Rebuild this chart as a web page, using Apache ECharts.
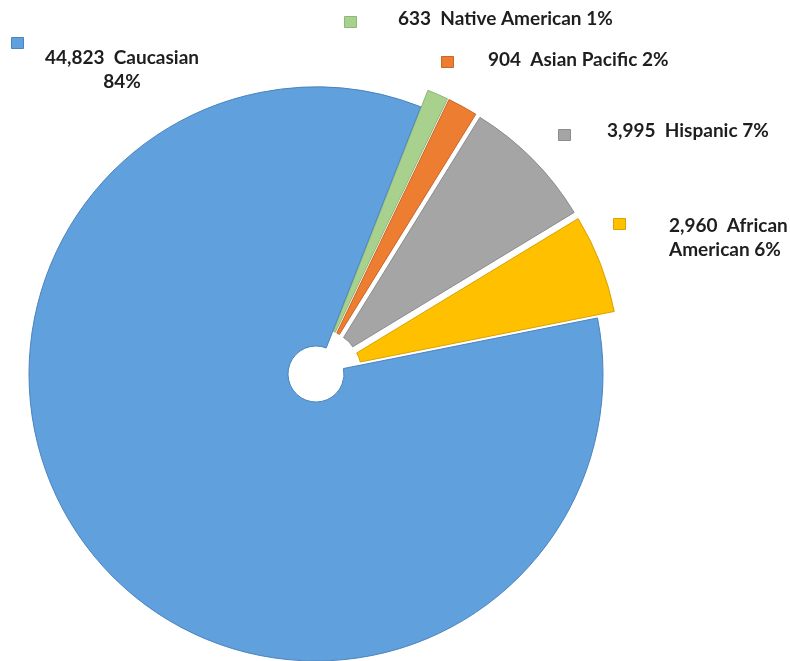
<!DOCTYPE html>
<html>
<head>
<meta charset="utf-8">
<script src="https://cdn.jsdelivr.net/npm/echarts@6/dist/echarts.min.js"></script>
<style>
html,body{margin:0;padding:0;background:#fff;}
#chart{width:790px;height:661px;}
</style>
</head>
<body>
<div id="chart"></div>
<script>
// ---- data ----
const categories = ['Native American', 'Asian Pacific', 'Hispanic', 'African American', 'Caucasian'];
const counts = [633, 904, 3995, 2960, 44823];
const exploded = [true, true, true, true, false];

// ---- styles / layout (kept separate from data) ----
const colors = ['#A9D18E', '#ED7D31', '#A5A5A5', '#FFC000', '#5FA0DD'];
const borders = ['#8fb874', '#c9662a', '#8c8c8c', '#d9a300', '#4a84bd'];
const labelPos = [[398, 19, 'left'], [488, 60, 'left'], [607, 131, 'left'], [669, 238, 'left'], [122, 70, 'center']];
const markerPos = [[350, 22], [447, 62], [564, 135], [619, 224], [17, 43]];

const fmt = v => v.toLocaleString('en-US');

function labelText(p) {
  const pct = Math.round(p.percent) + '%';
  const v = fmt(p.value);
  if (p.name === 'Caucasian') return v + '  ' + p.name + '\n' + pct;
  if (p.name === 'African American') return v + '  African\nAmerican ' + pct;
  return v + '  ' + p.name + ' ' + pct;
}

const pieCenter = [316, 374];
const pieRadius = [28, 287];
const pieStart = 68.6;

const sectorData = categories.map((c, i) => ({
  name: c,
  value: counts[i],
  selected: exploded[i],
  itemStyle: { color: colors[i], borderColor: borders[i], borderWidth: 1 }
}));
const labelData = categories.map((c, i) => ({ name: c, value: counts[i] }));

const legends = categories.map((c, i) => ({
  data: [c],
  left: markerPos[i][0] - 6,
  top: markerPos[i][1] - 6,
  padding: 0,
  itemWidth: 12,
  itemHeight: 11,
  icon: 'rect',
  selectedMode: false,
  formatter: () => '',
  textStyle: { fontSize: 1 },
  itemStyle: { borderColor: borders[i], borderWidth: 1 }
}));

const chart = echarts.init(document.getElementById('chart'), null, { renderer: 'canvas' });
chart.setOption({
  animation: false,
  backgroundColor: '#ffffff',
  color: colors,
  legend: legends,
  series: [{
    type: 'pie',
    name: 'sectors',
    center: pieCenter,
    radius: pieRadius,
    startAngle: pieStart,
    clockwise: true,
    selectedMode: 'multiple',
    selectedOffset: 18,
    data: sectorData,
    emphasis: { disabled: true },
    label: { show: false },
    labelLine: { show: false }
  }, {
    type: 'pie',
    name: 'labels',
    silent: true,
    center: pieCenter,
    radius: pieRadius,
    startAngle: pieStart,
    clockwise: true,
    avoidLabelOverlap: false,
    data: labelData,
    itemStyle: { color: 'rgba(0,0,0,0)', borderWidth: 0 },
    emphasis: { disabled: true },
    labelLine: { show: false },
    label: {
      show: true,
      formatter: labelText,
      color: '#1e1e1e',
      fontFamily: 'Lato',
      fontWeight: 'bold',
      fontSize: 19,
      lineHeight: 24
    },
    labelLayout: function (p) {
      const lp = labelPos[p.dataIndex];
      return { x: lp[0], y: lp[1], align: lp[2], verticalAlign: 'middle', hideOverlap: false };
    }
  }]
});
</script>
</body>
</html>
